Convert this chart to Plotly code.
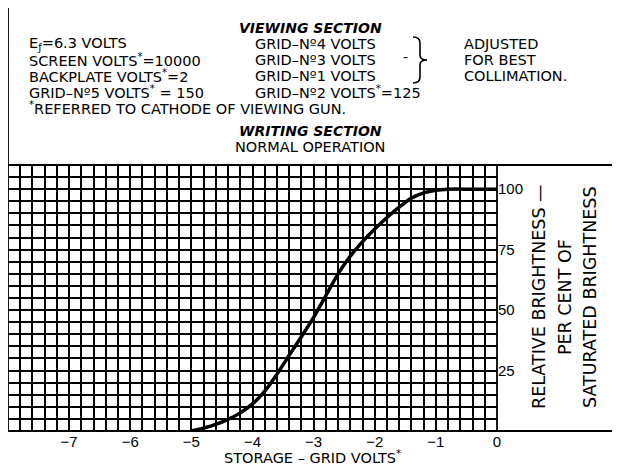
import plotly.graph_objects as go

# ---- data ----
grid_volts = [-5.0, -4.8, -4.6, -4.4, -4.2, -4.0, -3.8, -3.6, -3.4, -3.2, -3.0,
              -2.8, -2.6, -2.4, -2.2, -2.0, -1.8, -1.6, -1.4, -1.2, -1.0, -0.8,
              -0.4, 0.0]
brightness = [0.0, 1.2, 2.7, 4.8, 7.5, 11.2, 16.5, 23.5, 31.3, 39.0, 47.0,
              56.0, 65.0, 72.3, 78.3, 83.5, 88.3, 92.6, 96.3, 98.5, 99.6, 100.0,
              100.0, 100.0]
x_tick_vals = [-7, -6, -5, -4, -3, -2, -1, 0]
x_tick_text = ["\u22127", "\u22126", "\u22125", "\u22124", "\u22123", "\u22122", "\u22121", "0"]
y_tick_vals = [25, 50, 75, 100]
y_tick_text = ["25", "50", "75", "100"]

FONT = "DejaVu Sans"
TFONT = "Liberation Sans"
OFF = 8                      # page body margin
W, H = 620 - OFF, 465 - OFF
L, R, T, B = 0, 123, 157, 34
PW, PH = W - L - R, H - T - B


def px(x):
    return (x - OFF - L) / PW


def py(y):
    return (H - B - (y - OFF)) / PH


fig = go.Figure()
fig.add_trace(go.Scatter(
    x=grid_volts, y=brightness, mode="lines",
    line=dict(color="black", width=3.5, shape="spline", smoothing=0.6),
    hoverinfo="skip", showlegend=False,
))

grid_style = dict(showgrid=True, gridcolor="black", gridwidth=1.6)
fig.update_xaxes(
    range=[-8, 0], tickvals=x_tick_vals, ticktext=x_tick_text,
    ticks="", zeroline=False, showline=False,
    minor=dict(dtick=0.2, tick0=0, **grid_style), **grid_style,
    tickfont=dict(family=TFONT, size=15, color="black"),
)
fig.update_yaxes(
    range=[0, 110], tickvals=y_tick_vals, ticktext=y_tick_text, side="right",
    ticks="", zeroline=False, showline=False,
    minor=dict(dtick=5, tick0=0, **grid_style), **grid_style,
    tickfont=dict(family=TFONT, size=15, color="black"),
)

ann = []


def txt(t, x, y, anchor="left", size=14.5, angle=0, bold=False, italic=False):
    if bold:
        t = "<b>" + t + "</b>"
    if italic:
        t = "<i>" + t + "</i>"
    ann.append(dict(text=t, x=px(x), y=py(y), xref="paper", yref="paper",
                    xanchor=anchor, yanchor="middle", showarrow=False,
                    textangle=angle,
                    font=dict(family=FONT, size=size, color="black")))


txt("VIEWING SECTION", 310, 28, anchor="center", bold=True, italic=True, size=14)
col1 = ["E<sub>\u0192</sub>=6.3 VOLTS", "SCREEN VOLTS<sup>*</sup>=10000",
        "BACKPLATE VOLTS<sup>*</sup>=2", "GRID\u2013N\u00ba5 VOLTS<sup>*</sup> = 150",
        "<sup>*</sup>REFERRED TO CATHODE OF VIEWING GUN."]
col2 = ["GRID\u2013N\u00ba4 VOLTS", "GRID\u2013N\u00ba3 VOLTS", "GRID\u2013N\u00ba1 VOLTS",
        "GRID\u2013N\u00ba2 VOLTS<sup>*</sup>=125"]
col3 = ["ADJUSTED", "FOR BEST", "COLLIMATION."]
rows = [44, 60, 76, 92, 108]
for t, y in zip(col1, rows):
    txt(t, 27, y)
for t, y in zip(col2, rows):
    txt(t, 253, y)
for t, y in zip(col3, rows):
    txt(t, 462, y)
txt("-", 401, 57)
txt("WRITING SECTION", 310, 131, anchor="center", bold=True, italic=True, size=14)
txt("NORMAL OPERATION", 310, 147, anchor="center")

txt("STORAGE \u2013 GRID VOLTS<sup>*</sup>", 312, 457, anchor="center", size=14.5)
for t, x in zip(["RELATIVE BRIGHTNESS \u2014", "PER CENT OF", "SATURATED BRIGHTNESS"],
                [539, 565, 590]):
    ann.append(dict(text=t, x=px(x), y=py(297), xref="paper", yref="paper",
                    xanchor="center", yanchor="middle", showarrow=False,
                    textangle=-90,
                    font=dict(family=FONT, size=17.5, color="black")))

# frame lines
shapes = []


def line(x0, y0, x1, y1, w=1.8):
    shapes.append(dict(type="line", xref="paper", yref="paper",
                       x0=px(x0), y0=py(y0), x1=px(x1), y1=py(y1),
                       line=dict(color="black", width=w)))


line(8, 5, 617, 5, 1.5)
line(8, 5, 8, 431)
line(617, 5, 617, 431, 1.2)
line(8, 165, 617, 165)
line(8, 431, 620, 431)
line(497, 165, 497, 431)

# brace
path = "M {} {} Q {} {} {} {} L {} {} Q {} {} {} {} Q {} {} {} {} L {} {} Q {} {} {} {}".format(
    px(413), py(37), px(420), py(37), px(420), py(43),
    px(420), py(55), px(420), py(60), px(427), py(60),
    px(420), py(60), px(420), py(65),
    px(420), py(77), px(420), py(83), px(413), py(83))
shapes.append(dict(type="path", xref="paper", yref="paper", path=path,
                   line=dict(color="black", width=1.6)))

fig.update_layout(
    width=W, height=H, margin=dict(l=L, r=R, t=T, b=B),
    paper_bgcolor="white", plot_bgcolor="white",
    annotations=ann, shapes=shapes, showlegend=False,
)
fig.write_html("out.html")
